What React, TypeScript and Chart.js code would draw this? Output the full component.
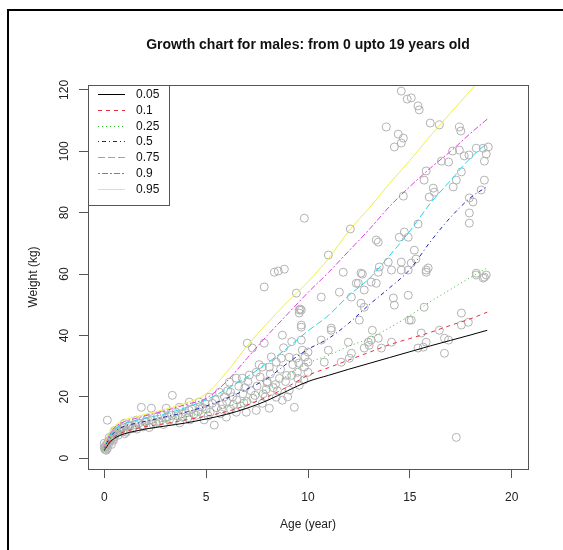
import React, { useEffect, useRef } from "react";
import { Chart, registerables } from "chart.js";

Chart.register(...registerables);

// ---- data ----
const curveAges = [0, 0.25, 0.5, 1, 1.5, 2, 3, 4, 5, 6, 7, 8, 9, 10, 11, 12, 13, 14, 15, 16, 17, 18, 18.8];
const q05 = [2.5, 5, 6.5, 8, 8.8, 9.5, 10.5, 11.5, 12.8, 14.3, 16.3, 18.8, 22, 25, 27, 29, 30.9, 32.8, 34.7, 36.6, 38.4, 40.2, 41.7];
const q10 = [2.8, 5.5, 7, 8.7, 9.5, 10.3, 11.3, 12.5, 13.7, 15.2, 17.3, 20, 23.3, 27, 29.5, 32, 34.5, 37, 39, 41, 43.3, 45.5, 47.6];
const q25 = [3, 6, 7.7, 9.5, 10.3, 11, 12.2, 13.5, 15, 16.8, 19.2, 22.5, 27, 31, 33.5, 36.5, 39, 42.5, 46.5, 51, 55, 59, 62];
const q50 = [3.5, 6.5, 8.5, 10.5, 11.3, 12, 13.5, 15, 17, 19.5, 22.5, 26, 31, 35.5, 39, 44, 50, 55.5, 61.5, 70.5, 78.5, 85, 88.5];
const q75 = [4, 7.2, 9.3, 11.3, 12.2, 13, 14.5, 16.5, 19, 22.5, 26.5, 31, 36, 41.5, 46.5, 53, 58.5, 66, 74, 83, 90.5, 98, 102.7];
const q90 = [4.3, 7.7, 10, 12, 12.9, 13.8, 15.5, 17.5, 19.5, 25, 32.5, 40, 47, 54, 60.5, 67.5, 74.5, 82, 88.5, 94.5, 100, 106, 110.5];
const q95 = [4.5, 8.2, 10.5, 12.5, 13.4, 14.3, 16, 18, 21, 28, 36.5, 44, 51, 57.5, 65, 74, 81.5, 89.5, 97, 105, 112.5, 120, 126];
const quantileLabels = ["0.05", "0.1", "0.25", "0.5", "0.75", "0.9", "0.95"];

const scatterAge = [
  14.58, 14.87, 15.07, 15.4, 15.46, 13.84, 14.43, 14.68, 14.58, 14.24, 16.0, 16.45, 17.43, 17.5, 17.1, 17.43, 17.67, 17.9, 18.26, 18.6,
  18.85, 18.75, 18.66, 16.55, 16.9, 15.8, 15.7, 16.15, 15.95, 16.2, 17.13, 17.28, 17.53, 18.5, 17.92, 18.1, 17.92, 18.66, 14.68, 9.82,
  12.08, 13.35, 13.45, 14.73, 14.48, 14.92, 15.4, 15.22, 11.0, 11.73, 12.6, 13.5, 13.94, 14.1, 14.58, 14.58, 14.92, 15.07, 15.3, 15.9,
  15.8, 18.26, 18.66, 17.92, 13.45, 15.8, 18.6, 18.75, 18.26, 12.47, 13.1, 13.35, 11.54, 12.76, 10.65, 14.92, 14.19, 14.24, 15.7, 12.6,
  12.76, 9.67, 17.53, 14.97, 15.07, 12.52, 17.53, 17.87, 11.14, 13.16, 15.56, 16.45, 9.67, 10.65, 11.98, 12.96, 13.1, 13.45, 14.1, 16.7,
  16.9, 15.8, 10.0, 11.0, 12.13, 12.76, 13.0, 13.6, 15.4, 15.66, 9.82, 10.0, 10.8, 11.63, 12.03, 16.7, 10.0, 17.28,
  8.54, 8.35, 8.84, 7.85, 9.43, 12.67, 12.37, 9.57, 9.62, 12.13, 9.67, 11.14,
  7.02, 7.27, 7.85, 8.74, 9.57, 9.67, 9.72, 9.43, 9.08, 8.69, 8.44, 8.1, 7.76, 7.46, 7.12, 6.77, 6.48, 6.14, 9.48, 9.57,
  9.33, 9.08, 8.74, 8.44, 8.1, 7.76, 7.46, 6.97, 6.48, 5.99, 5.4, 3.34, 1.82, 2.31, 3.04, 3.68, 4.17, 4.66, 5.15, 5.65,
  0.15, 0, 0.1, 0.25, 0.6, 1.08, 1.37, 1.87, 2.55, 3.19, 3.83, 4.52, 0.98, 1.57, 2.11, 2.8, 3.53, 4.17, 4.81, 5.3,
  0.05, 0.1, 0.2, 0.3, 0.4, 0.5, 0.5, 0.7, 0.8, 1.2, 1.5, 2, 2.3, 2.6, 3, 3.3, 3.6, 4, 4.3, 4.6,
  5, 5.2, 5.5, 5.8, 6, 6.3, 6.5, 6.8, 7, 7.2, 7.5, 7.8, 8, 8.3, 8.6, 8.9, 9.2, 9.5, 9.8, 6.2,
  6.7, 7.3, 7.9, 8.5, 9, 5.7, 4.9, 4.2, 3.7, 2.9, 2.2, 1.6, 1, 0.35, 0.15, 0.0, 0.45, 0.05, 7.6, 8.2,
  8.8, 9.2, 8, 6.9, 6.2, 5.9,
  0.02, 0.08, 0.12, 0.18, 0.22, 0.28, 0.33, 0.38, 0.42, 0.55, 0.62, 0.68, 0.75, 0.85, 0.9, 0.95,
  1.1, 1.25, 1.4, 1.7, 1.9, 2.05, 2.4, 2.7, 3.1, 3.4, 3.8, 4.1, 4.4, 4.7, 4.95,
  5.1, 5.45, 5.75, 6.05, 6.35, 6.6, 6.85, 7.05, 7.4, 7.65, 7.95, 8.15, 8.4, 8.65, 8.95, 9.25, 9.55, 9.85,
];
const scatterWeight = [
  119.6, 117, 117.4, 114.8, 113.5, 107.9, 105.6, 104.3, 102.7, 101.4, 109.2, 108.6, 107.9, 106.6, 100.1, 100.4, 98.5, 98.8, 101, 101,
  101.4, 99.1, 96.8, 96.8, 96.5, 93.6, 90.6, 88, 85.1, 86.7, 88.4, 90.6, 93.3, 87.4, 84.8, 83.5, 76.6, 90.6, 85.4, 78.2,
  74.7, 71.1, 70.4, 73.7, 72, 72, 76.3, 67.8, 66.2, 60.6, 60.3, 62.3, 63.9, 61.3, 63.9, 61.3, 61.3, 63.6, 64.9, 62,
  61.3, 60.3, 59, 79.9, 60.6, 60.6, 58.7, 59.7, 59.7, 57, 57.4, 57, 54.1, 54.8, 52.5, 53.1, 52.2, 49.9, 49.2, 50.5,
  49.2, 48.3, 47.3, 45, 45, 45, 43.4, 44.3, 41.7, 41.7, 40.8, 41.7, 38.5, 38.5, 37.8, 37.8, 38.5, 39.1, 37.8, 39.1,
  38.5, 37.8, 34.6, 35.2, 34.2, 35.9, 36.8, 35.9, 35.9, 36.2, 29.7, 31.3, 31.3, 31.3, 32.6, 34.2, 28, 6.8,
  61, 60.6, 61.6, 55.8, 53.8, 60, 57, 47.3, 48.6, 52.5, 42.7, 42.4,
  37.5, 35.9, 37.5, 40.1, 48.3, 43.4, 35.2, 32.6, 32.9, 32.6, 31.3, 29.7, 29.7, 28, 27.1, 26.1, 26.1, 24.8, 28, 23.8,
  16.6, 22.2, 18.9, 19.9, 16.3, 17.9, 15.6, 15, 15, 13.4, 10.8, 20.5, 16.6, 16.3, 16.3, 16.6, 18.3, 18.3, 19.9, 21.5,
  12.4, 4.9, 2.6, 6.8, 8.1, 8.5, 9.8, 10.8, 11.4, 12.4, 13.4, 14, 11.4, 12.4, 13, 14, 15, 15.6, 16.6, 17.9,
  3.5, 4.5, 5.5, 6, 7.5, 7, 9, 9.5, 8.8, 10.5, 11, 11.8, 12.5, 13.5, 13, 14, 13.8, 14.8, 16, 15.2,
  16, 15, 16.5, 17.5, 18.5, 20, 19, 21, 18.5, 22, 23.5, 21, 24.5, 23, 26, 25, 27, 26, 25.5, 16,
  17, 19.5, 20, 22, 20, 14.5, 12.5, 12.5, 11.5, 11, 10, 9.5, 8, 4.5, 3.2, 3.6, 5.8, 2.8, 30.5, 33,
  36, 38, 25, 23, 21.5, 20,
  3, 3.8, 4.2, 5, 4.6, 5.8, 6.5, 7, 6.2, 7.8, 8.5, 7.5, 9, 9.8, 8.6, 10.2,
  9.2, 10.8, 9.6, 11.5, 10.2, 12, 11, 12, 13.6, 12.3, 14.5, 13.2, 14.4, 16.8, 17.8,
  13.8, 19, 16, 22, 17.5, 23.5, 18, 25, 20.5, 26.5, 22.5, 27.5, 24, 29, 27, 30.5, 31, 33,
];

const xMin = -0.8;
const xMax = 20.8;
const yMin = -3.5;
const yMax = 121.6;

// ---- styles ----
const FONT = '"Liberation Sans", Arial, Helvetica, sans-serif';
const lineColors = ["#000000", "#e8303c", "#30bb30", "#2020b0", "#22d8e8", "#dd40dd", "#eeee44"];
const lineDashes: number[][] = [[], [4, 4], [1, 3], [1, 3, 4, 3], [7, 3], [2, 2, 6, 2], []];

const rPlugin = {
  id: "rstyle",
  afterDraw(chart: any) {
    const { ctx, chartArea: a, scales } = chart;
    ctx.save();
    // plot box
    ctx.strokeStyle = "#555";
    ctx.lineWidth = 1;
    ctx.setLineDash([]);
    ctx.strokeRect(Math.round(a.left) + 0.5, Math.round(a.top) + 0.5, Math.round(a.right - a.left), Math.round(a.bottom - a.top));

    // y tick labels (rotated, R style)
    ctx.fillStyle = "#222";
    ctx.font = `12px ${FONT}`;
    ctx.textAlign = "center";
    ctx.textBaseline = "middle";
    scales.y.ticks.forEach((t: any) => {
      const py = scales.y.getPixelForValue(t.value);
      ctx.save();
      ctx.translate(65, py);
      ctx.rotate(-Math.PI / 2);
      ctx.fillText(String(t.value), 0, 0);
      ctx.restore();
    });

    // title
    const cx = (a.left + a.right) / 2;
    ctx.font = `bold 14px ${FONT}`;
    ctx.fillStyle = "#111";
    ctx.fillText("Growth chart for males: from 0 upto 19 years old", cx, 45);

    // axis titles
    ctx.font = `12px ${FONT}`;
    ctx.fillStyle = "#222";
    ctx.fillText("Age (year)", cx, 525);
    ctx.save();
    ctx.translate(34, (a.top + a.bottom) / 2);
    ctx.rotate(-Math.PI / 2);
    ctx.fillText("Weight (kg)", 0, 0);
    ctx.restore();

    // legend
    const lx = Math.round(a.left) + 0.5;
    const ly = Math.round(a.top) + 0.5;
    const lw = 81;
    const lh = 120;
    ctx.fillStyle = "#fff";
    ctx.fillRect(lx, ly, lw, lh);
    ctx.strokeStyle = "#555";
    ctx.strokeRect(lx, ly, lw, lh);
    quantileLabels.forEach((lab, i) => {
      const y = Math.round(a.top + 9 + i * 15.8) + 0.5;
      ctx.save();
      ctx.strokeStyle = lineColors[i];
      ctx.lineWidth = 1;
      ctx.setLineDash(lineDashes[i]);
      ctx.beginPath();
      ctx.moveTo(a.left + 10, y);
      ctx.lineTo(a.left + 37, y);
      ctx.stroke();
      ctx.restore();
      ctx.fillStyle = "#111";
      ctx.textAlign = "left";
      ctx.textBaseline = "middle";
      ctx.font = `12px ${FONT}`;
      ctx.fillText(lab, a.left + 48, y);
    });
    ctx.restore();
  },
};

export default function App() {
  const ref = useRef<HTMLCanvasElement | null>(null);

  useEffect(() => {
    if (!ref.current) return;
    const series = [q05, q10, q25, q50, q75, q90, q95];
    const lineSets = series.map((arr, i) => ({
      label: quantileLabels[i],
      data: curveAges.map((a, j) => ({ x: a, y: arr[j] })),
      showLine: true,
      borderColor: lineColors[i],
      backgroundColor: lineColors[i],
      borderDash: lineDashes[i],
      borderWidth: 1,
      pointRadius: 0,
      cubicInterpolationMode: "monotone" as const,
      order: 7 - i,
    }));
    const pointSet = {
      label: "data",
      data: scatterAge.map((a, i) => ({ x: a, y: scatterWeight[i] })),
      showLine: false,
      pointStyle: "circle" as const,
      pointRadius: 4,
      borderColor: "#b2b2b2",
      backgroundColor: "rgba(0,0,0,0)",
      pointBorderWidth: 1,
      borderWidth: 1,
      order: 100,
    };

    const chart = new Chart(ref.current, {
      type: "scatter",
      data: { datasets: [...lineSets, pointSet] as any },
      options: {
        animation: false,
        responsive: false,
        devicePixelRatio: 1,
        layout: { padding: { left: 0, top: 85, right: 35, bottom: 0 } },
        plugins: { legend: { display: false }, tooltip: { enabled: false }, title: { display: false } },
        scales: {
          x: {
            type: "linear",
            min: xMin,
            max: xMax,
            afterFit: (s: any) => {
              s.height = 81;
            },
            grid: { drawOnChartArea: false, drawTicks: true, tickLength: 9, color: "#555" },
            border: { display: false },
            ticks: {
              stepSize: 5,
              includeBounds: false,
              padding: 12,
              color: "#222",
              font: { family: FONT, size: 12 },
              maxRotation: 0,
            },
          },
          y: {
            type: "linear",
            min: yMin,
            max: yMax,
            afterFit: (s: any) => {
              s.width = 88;
            },
            grid: { drawOnChartArea: false, drawTicks: true, tickLength: 9, color: "#555" },
            border: { display: false },
            ticks: { stepSize: 20, includeBounds: false, display: false },
          },
        },
      },
      plugins: [rPlugin],
    });
    return () => chart.destroy();
  }, []);

  return (
    <div style={{ position: "fixed", left: 0, top: 0, width: 563, height: 550, overflow: "hidden", background: "#fff" }}>
      <canvas ref={ref} width={563} height={550} style={{ position: "absolute", left: 0, top: 0 }} />
      <div
        style={{
          position: "absolute",
          left: 7,
          top: 9,
          width: 600,
          height: 600,
          borderLeft: "2px solid #000",
          borderTop: "2px solid #000",
          pointerEvents: "none",
        }}
      />
    </div>
  );
}
